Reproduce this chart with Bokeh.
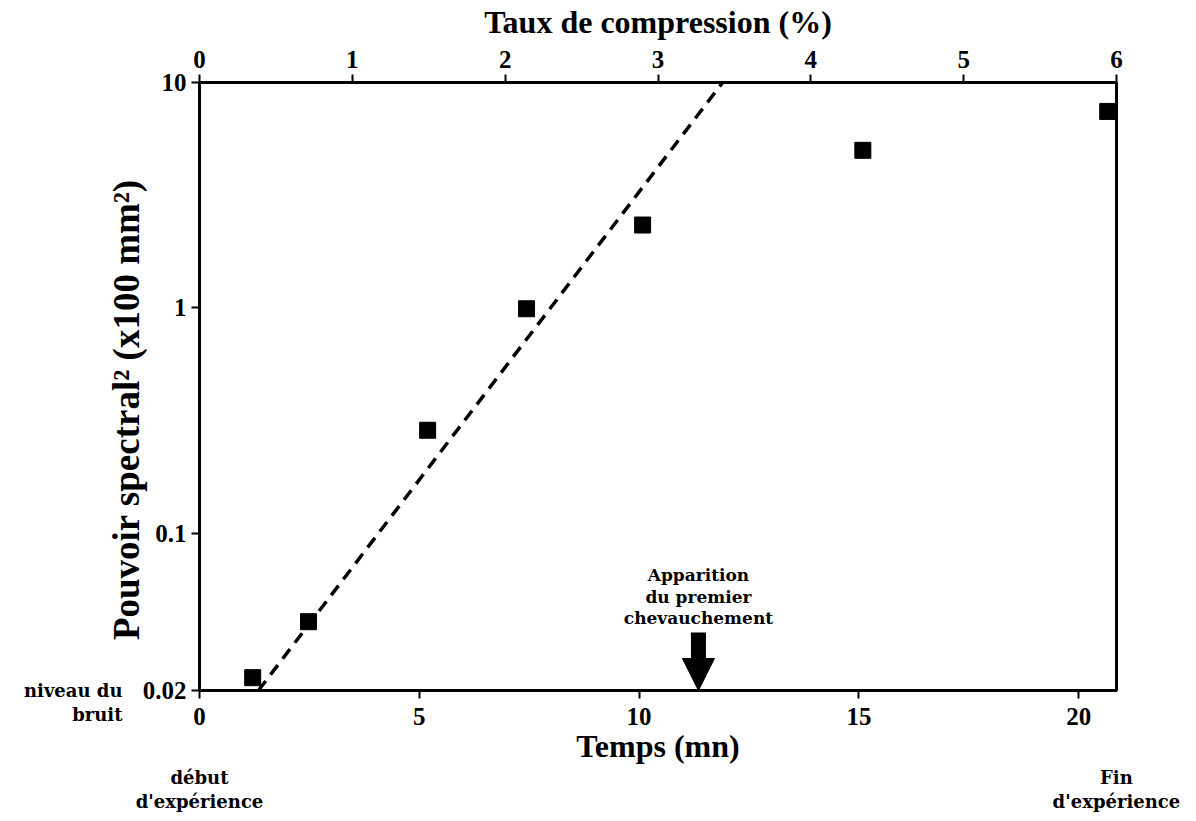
import math
from bokeh.plotting import figure
from bokeh.models import Range1d, LinearAxis, LogAxis, FixedTicker, Label, Arrow, NormalHead
from bokeh.embed import file_html
from bokeh.resources import INLINE

# ---- data ----
temps = [1.21, 2.48, 5.19, 7.44, 10.08, 15.09, 20.66]          # Temps (mn)
pouvoir = [0.0228, 0.0404, 0.286, 0.99, 2.33, 5.0, 7.44]        # Pouvoir spectral^2
fit_temps = [1.34, 11.9]
fit_pouvoir = [0.02, 10.0]
x_ticks = [0, 5, 10, 15, 20]
taux_ticks = [0, 1, 2, 3, 4, 5, 6]
y_ticks = [0.02, 0.1, 1, 10]
y_tick_labels = ["0.02", "0.1", "1", "10"]
chevauchement_temps = 11.35
X_MAX = 20.86
TAUX_MAX = 6
Y_MIN, Y_MAX = 0.02, 10

# ---- layout ----
W, H = 1190, 820
L, T = 199, 82
R = W - 1116
B = H - 690
FW = W - L - R
FH = H - T - B
SERIF = "Liberation Serif"
ANN = "DejaVu Serif"


def y_of(page_py):
    lmax, lmin = math.log10(Y_MAX), math.log10(Y_MIN)
    return 10 ** (lmax - (page_py - T) / FH * (lmax - lmin))


p = figure(width=W, height=H, output_backend="svg", toolbar_location=None,
           x_range=Range1d(0, X_MAX), y_range=Range1d(Y_MIN, Y_MAX),
           y_axis_type="log", min_border_left=L, min_border_right=R,
           min_border_top=T, min_border_bottom=B)
p.extra_x_ranges = {"taux": Range1d(0, TAUX_MAX)}
p.xgrid.visible = False
p.ygrid.visible = False
p.outline_line_color = "black"
p.outline_line_width = 3
p.background_fill_color = "white"
p.border_fill_color = "white"

bottom = p.below[0]
left = p.left[0]
top = LinearAxis(x_range_name="taux")
p.add_layout(top, "above")

for ax in [bottom, left, top]:
    ax.axis_line_color = "black"
    ax.axis_line_width = 3
    ax.major_tick_line_color = "black"
    ax.major_tick_line_width = 2
    ax.major_tick_out = 8
    ax.major_tick_in = 0
    ax.minor_tick_line_color = None
    ax.major_label_text_font = SERIF
    ax.major_label_text_font_style = "bold"
    ax.major_label_text_font_size = "25px"
    ax.major_label_text_color = "black"
    ax.major_label_standoff = 5
    ax.axis_label_text_font = SERIF
    ax.axis_label_text_font_style = "bold"
    ax.axis_label_text_font_size = "32px"
    ax.axis_label_text_color = "black"

bottom.ticker = FixedTicker(ticks=x_ticks)
top.ticker = FixedTicker(ticks=taux_ticks)
left.ticker = FixedTicker(ticks=y_ticks)
left.major_label_overrides = {t: s for t, s in zip(y_ticks, y_tick_labels)}

bottom.axis_label = "Temps (mn)"
bottom.major_label_standoff = 9
bottom.axis_label_standoff = 0
top.axis_label = "Taux de compression (%)"
top.major_label_standoff = 7
top.axis_label_standoff = 8
left.axis_label = "Pouvoir spectral\u00b2 (x100 mm\u00b2)" + "\u00a0" * 5
left.axis_label_text_font_size = "37px"
left.axis_label_standoff = -7

# extra text-only axes for the outer annotations
ends = LinearAxis(ticker=FixedTicker(ticks=[0, X_MAX * 0.9999]),
                  major_label_overrides={0: "début\nd'expérience",
                                         X_MAX * 0.9999: "Fin\nd'expérience"})
noise = LogAxis(ticker=FixedTicker(ticks=[Y_MIN]),
                major_label_overrides={Y_MIN: "\nniveau du\nbruit"})
for ax in [ends, noise]:
    ax.axis_line_color = None
    ax.major_tick_line_color = None
    ax.minor_tick_line_color = None
    ax.major_tick_out = 0
    ax.major_tick_in = 0
    ax.major_label_text_font = ANN
    ax.major_label_text_font_style = "bold"
    ax.major_label_text_font_size = "18px"
    ax.major_label_text_color = "black"
    ax.major_label_text_line_height = 1.15
ends.major_label_standoff = 0
noise.major_label_standoff = -20
p.add_layout(ends, "below")
p.add_layout(noise, "left")

# fit line and points
p.line(fit_temps, fit_pouvoir, line_color="black", line_width=3.5, line_dash="12 8")
p.scatter(temps, pouvoir, marker="square", size=16, fill_color="black", line_color="black")

# arrow: first overlap
p.add_layout(Arrow(end=NormalHead(size=32, fill_color="black", line_color="black"),
                   x_start=chevauchement_temps, y_start=y_of(632),
                   x_end=chevauchement_temps, y_end=Y_MIN,
                   line_width=15, line_color="black"))


def lab(text, x, y, size, font=ANN):
    p.add_layout(Label(x=x, y=y, text=text, text_font=font,
                       text_font_style="bold", text_font_size=size,
                       text_align="center", text_baseline="middle",
                       text_color="black"))


lab("Apparition", chevauchement_temps, y_of(574), "17px")
lab("du premier", chevauchement_temps, y_of(596), "17px")
lab("chevauchement", chevauchement_temps, y_of(617), "17px")

open("out.html", "w").write(file_html(p, INLINE))
